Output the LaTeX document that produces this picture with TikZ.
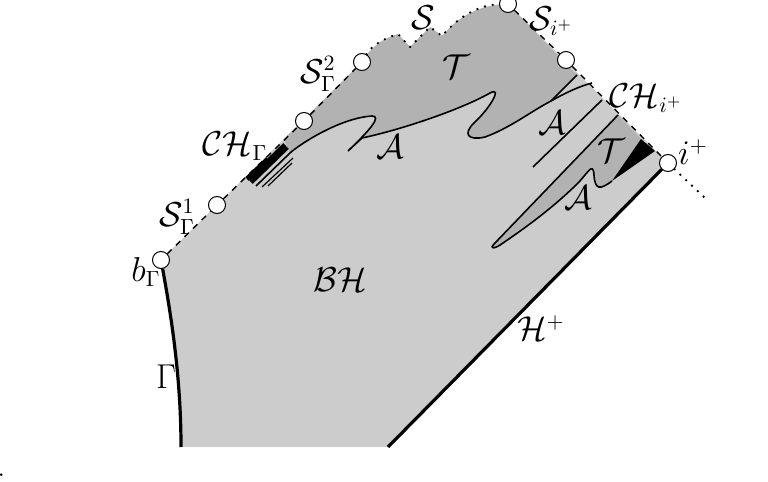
\documentclass[tikz,border=0pt]{standalone}
\usepackage{amsmath}
\usepackage{amssymb}
\begin{document}
\begin{tikzpicture}[x=0.5pt, y=-0.5pt,
  hole/.style={draw, circle, fill=white, minimum size=8.5pt, inner sep=0pt, line width=0.5pt},
  lab/.style={font=\fontsize{16}{18}\selectfont, inner sep=1pt},
  wall/.style={dashed, line width=0.7pt},
  dots/.style={line width=1.3pt, line cap=round, dash pattern=on 0pt off 4pt},
  thinline/.style={line width=0.8pt},
  bdry/.style={line width=1.6pt}]
  \useasboundingbox (0,0) rectangle (768,482);

  % Define the free end points
  \coordinate (gbot) at (181,447);
  \coordinate (hbot) at (388,447);
  \coordinate (ifar) at (705,198);

  % Black hole region
  \fill[black!20] (161,260) -- (362,62) .. controls (372,45) and (385,38) .. (398,34) -- (410,47) -- (430,27) -- (442,36) .. controls (460,15) and (480,5) .. (508,4) -- (668,163) -- (388,447) -- (181,447) .. controls (181,380) and (172,320) .. (161,260) -- cycle;

  % Trapped regions
  \fill[black!30] (290,153) .. controls (300,144) and (340,118) .. (372,116) .. controls (382,116) and (370,130) .. (348,151) -- (362,138) .. controls (400,130) and (460,110) .. (490,93) .. controls (503,86) and (490,108) .. (475,122) .. controls (462,134) and (468,141) .. (485,137) .. controls (510,128) and (530,112) .. (551,101) -- (577,75) -- (508,4) .. controls (480,5) and (460,15) .. (442,36) -- (430,27) -- (410,47) -- (398,34) .. controls (385,38) and (372,45) .. (362,62) -- (284,139) -- cycle;
  \fill[black!30] (618,115) -- (641,139) -- (612,181) .. controls (600,190) and (595,190) .. (594,175) .. controls (593,160) and (587,175) .. (575,186) .. controls (550,210) and (525,228) .. (503,243) .. controls (495,249) and (488,250) .. (495,243) -- cycle;
  \fill[black] (612,181) -- (641,139) -- (655,151) -- cycle;

  % Apparent horizons
  \draw[thinline] (256,186) -- (290,153) .. controls (300,144) and (340,118) .. (372,116) .. controls (382,116) and (370,130) .. (348,151) -- (362,138) .. controls (400,130) and (460,110) .. (490,93) .. controls (503,86) and (490,108) .. (475,122) .. controls (462,134) and (468,141) .. (485,137) .. controls (510,128) and (530,112) .. (551,101) .. controls (565,93) and (580,86) .. (592,83);
  \draw[thinline] (577,75) -- (551,101);
  \draw[thinline] (602,100) -- (533,167);
  \draw[thinline] (618,115) -- (495,243) .. controls (488,250) and (495,249) .. (503,243) .. controls (525,228) and (550,210) .. (575,186) .. controls (587,175) and (593,160) .. (594,175) .. controls (595,190) and (600,190) .. (612,181);

  % Cauchy horizon near the centre
  \draw[line width=4pt] (250,181) -- (286,146);
  \draw[line width=2.5pt] (247,179) -- (268,159);
  \draw[line width=0.6pt] (262,187) -- (293,158);
  \draw[line width=0.6pt] (268,186) -- (292,163);

  % Endpoints
  \node[hole] (bgam) at (161,260) {};
  \node[hole] (c1) at (217,205) {};
  \node[hole] (c2) at (304,121) {};
  \node[hole] (c3) at (362,62) {};
  \node[hole] (c4) at (508,4) {};
  \node[hole] (c5) at (566,60) {};
  \node[hole] (iplus) at (668,163) {};

  % Boundaries
  \draw[wall] (bgam) -- (c1);
  \draw[wall] (c1) -- (c2);
  \draw[wall] (c2) -- (c3);
  \draw[dots] (c3) .. controls (372,45) and (385,38) .. (398,34) -- (410,47) -- (430,27) -- (442,36) .. controls (460,15) and (480,5) .. (c4);
  \draw[wall] (c4) -- (c5);
  \draw[wall] (c5) -- (iplus);
  \draw[dots] (iplus) -- (ifar);
  \draw[bdry] (bgam) .. controls (172,320) and (181,380) .. (gbot);
  \draw[bdry] (iplus) -- (hbot);

  % Labels
  \node[lab, inner sep=0pt] (lS) at (423,18) {$\mathcal{S}$};
  \node[lab, inner sep=0pt] (lSi) at (551,21) {$\mathcal{S}_{i^+}$};
  \node[lab] (lT1) at (456,67) {$\mathcal{T}$};
  \node[lab] (lSG2) at (318,74) {$\mathcal{S}_\Gamma^2$};
  \node[lab] (lCHG) at (235,146) {$\mathcal{CH}_\Gamma$};
  \node[lab] (lA1) at (390,147) {$\mathcal{A}$};
  \node[lab] (lA2) at (552,123) {$\mathcal{A}$};
  \node[lab] (lCHi) at (646,98) {$\mathcal{CH}_{i^+}$};
  \node[lab] (lT2) at (611,151) {$\mathcal{T}$};
  \node[lab] (li) at (693,152) {$i^+$};
  \node[lab] (lA3) at (578,198) {$\mathcal{A}$};
  \node[lab] (lSG1) at (177,217) {$\mathcal{S}_\Gamma^1$};
  \node[lab] (lb) at (146,272) {$b_\Gamma$};
  \node[lab] (lBH) at (340,280) {$\mathcal{BH}$};
  \node[lab] (lGam) at (166,377) {$\Gamma$};
  \node[lab] (lH) at (541,328) {$\mathcal{H}^+$};
  \node[lab, anchor=base west, inner sep=0pt] (dot) at (-3,476) {.};
\end{tikzpicture}
\end{document}
